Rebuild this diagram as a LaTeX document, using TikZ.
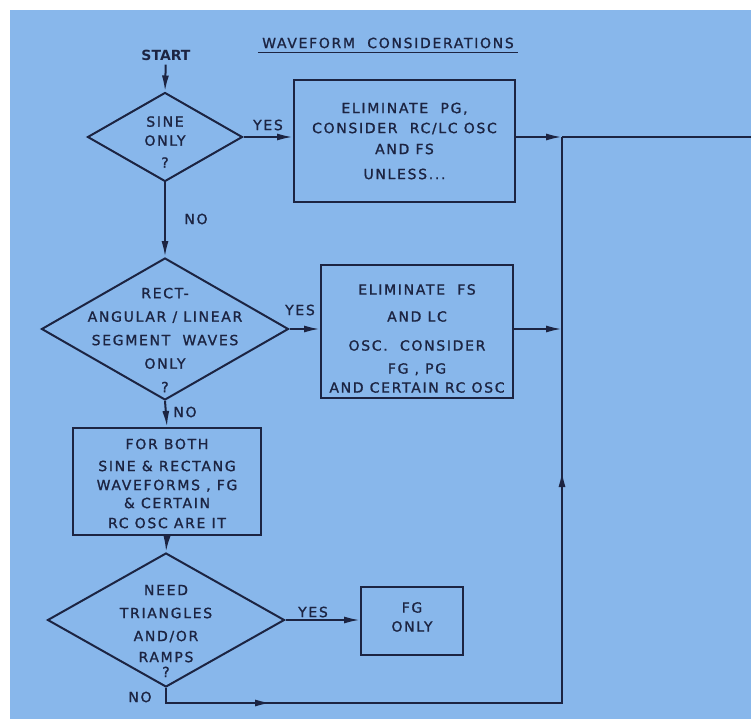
\documentclass[tikz,border=0pt]{standalone}
\usepackage{fontspec}
\setmainfont[LetterSpace=12, FakeBold=1.2]{DejaVu Sans}
\newfontfamily\startfont{DejaVu Sans}
\usetikzlibrary{shapes.geometric}
\usetikzlibrary{arrows.meta}
\usetikzlibrary{decorations.markings}

\definecolor{bgblue}{RGB}{136,183,235}
\definecolor{ink}{RGB}{28,36,66}

\begin{document}
\begin{tikzpicture}[x=1pt, y=-1pt, color=ink, line width=2pt,
  every node/.style={font=\fontsize{14}{20}\selectfont},
  box/.style={draw, rectangle, inner sep=0pt},
  decision/.style={draw, diamond, inner sep=0pt},
  txt/.style={align=center, inner sep=0pt},
  flow/.style={-{Latex[length=16pt, width=7pt]}},
  ret/.style={postaction={decorate}, decoration={markings,
    mark=at position 120pt with {\arrow{Latex[length=16pt, width=7pt]}},
    mark=at position 643pt with {\arrow{Latex[length=16pt, width=7pt]}}}}]
\fill[white] (0,0) rectangle (751,719);
\fill[bgblue] (10,10) rectangle (751,719);
\useasboundingbox (0,0) rectangle (751,719);

\coordinate (j1) at (562,137);
\coordinate (out) at (751,137);
\coordinate (j3) at (562,703);

% title and start
\node (title) at (388,43) {WAVEFORM\ \ CONSIDERATIONS};
\draw[line width=1.6pt] (title.south west) -- (title.south east);
\node[font=\startfont\bfseries\fontsize{14}{16}\selectfont] (start) at (166,55) {START};

% decisions
\node[decision, minimum width=155pt, minimum height=89pt] (d1) at (165,137) {};
\node[txt] (d1t) at ([yshift=-5pt]d1.center) {SINE\\[-1pt] ONLY\\[2pt] ?};
\node[decision, minimum width=247pt, minimum height=142pt] (d2) at (165,329) {};
\node[txt] (d2t) at ([yshift=-11pt]d2.center)
  {RECT-\\[3.5pt] ANGULAR / LINEAR\\[3.5pt] SEGMENT\ \ WAVES\\[3.5pt] ONLY\\[3.5pt] ?};
\node[decision, minimum width=237pt, minimum height=134pt] (d3) at (166,620) {};
\node[txt] (d3t) at ([yshift=-11pt]d3.center)
  {NEED\\[3pt] TRIANGLES\\[3pt] AND/OR\\[1pt] RAMPS\\[-5pt] ?};

% boxes
\node[box, minimum width=221pt, minimum height=122pt] (b1) at (404.5,141) {};
\node[txt] (b1t) at (b1.center)
  {ELIMINATE\ \ PG,\\ CONSIDER\ \ RC/LC OSC\\[1pt] AND\ FS\\[5pt] UNLESS...};
\node[box, minimum width=192pt, minimum height=133pt] (b2) at (417,331.5) {};
\node[txt] (b2t) at ([yshift=-7pt]b2.center)
  {ELIMINATE\ \ FS\\[7pt] AND LC\\[9pt] OSC.\ \ CONSIDER\\[3pt] FG , PG\\[-1pt] AND\ CERTAIN RC OSC};
\node[box, minimum width=188pt, minimum height=107pt] (b3) at (167,481.5) {};
\node[txt] (b3t) at ([yshift=-2pt]b3.center)
  {FOR\ BOTH\\[2pt] SINE \& RECTANG\\[-1pt] WAVEFORMS , FG\\[-2pt] \& CERTAIN\\ RC OSC\ ARE\ IT};
\node[box, minimum width=102pt, minimum height=68pt] (b4) at (412,621) {};
\node[txt] (b4t) at ([yshift=4pt]b4.center) {FG\\[-1pt] ONLY};

% labels
\node (yes1) at (268,125) {YES};
\node (yes2) at (300,310) {YES};
\node (yes3) at (313,612) {YES};
\node (no1) at (196,219) {NO};
\node (no2) at (185,412) {NO};
\node (no3) at (140,697) {NO};

% connectors
\draw[flow] (start) -- (d1.north);
\draw[flow] (d1.east) -- (d1.east -| b1.west);
\draw[flow] (d1.east -| b1.east) -- (j1);
\draw (j1) -- (out);
\draw[flow] (d1.south) -- (d2.north);
\draw[flow] (d2.east) -- (d2.east -| b2.west);
\draw[flow] (d2.east -| b2.east) -- (d2.east -| j1);
\draw[flow] (d2.south) -- (b3.north);
\draw[flow] (b3.south) -- (d3.north);
\draw[flow] (d3.east) -- (d3.east -| b4.west);
\draw[ret] (d3.south) |- (j3) -- (j1);
\end{tikzpicture}
\end{document}
